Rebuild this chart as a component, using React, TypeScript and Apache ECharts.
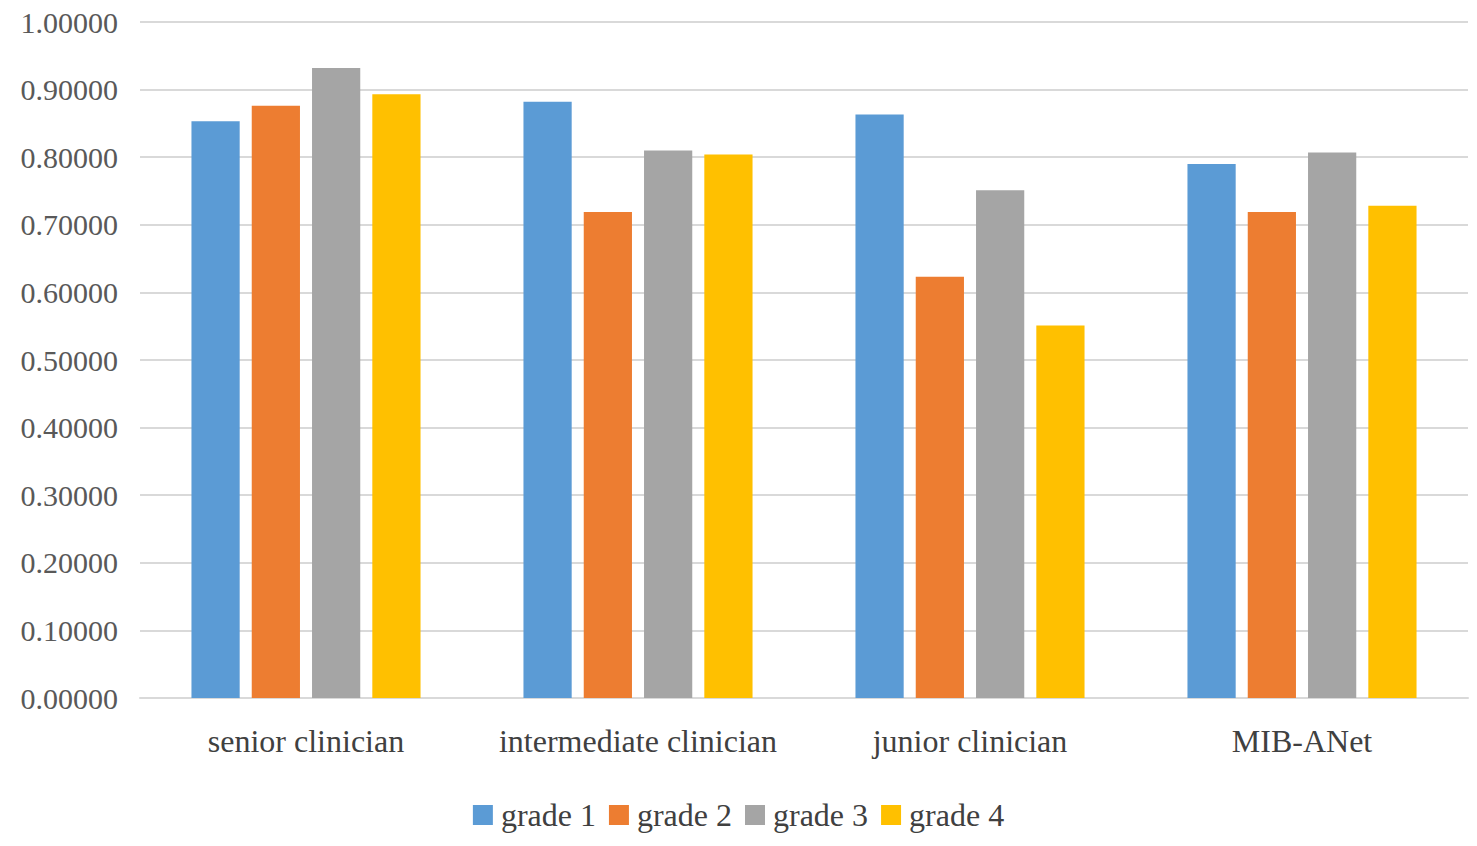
import React, { useEffect, useRef } from "react";
import * as echarts from "echarts";

const categories = ["senior clinician", "intermediate clinician", "junior clinician", "MIB-ANet"];
const seriesNames = ["grade 1", "grade 2", "grade 3", "grade 4"];
const grade1 = [0.853, 0.882, 0.863, 0.790];
const grade2 = [0.876, 0.719, 0.623, 0.719];
const grade3 = [0.932, 0.810, 0.751, 0.807];
const grade4 = [0.893, 0.804, 0.551, 0.728];
const colors = ["#5B9BD5", "#ED7D31", "#A5A5A5", "#FFC000"];

export default function App() {
  const ref = useRef<HTMLDivElement>(null);
  useEffect(() => {
    if (!ref.current) return;
    const chart = echarts.init(ref.current, null, { renderer: "svg" });
    const font = "'Liberation Serif', 'Times New Roman', serif";
    const data = [grade1, grade2, grade3, grade4];
    chart.setOption({
      animation: false,
      backgroundColor: "#ffffff",
      textStyle: { fontFamily: font },
      grid: { left: 140, right: 9, top: 22, bottom: 148 },
      legend: {
        bottom: 10,
        left: "center",
        itemWidth: 20,
        itemHeight: 20,
        itemGap: 13,
        icon: "rect",
        textStyle: { fontFamily: font, fontSize: 32, color: "#404040", padding: [0, 0, 0, 3] },
        data: seriesNames,
      },
      xAxis: {
        type: "category",
        data: categories,
        axisLine: { show: true, lineStyle: { color: "#d9d9d9", width: 2 } },
        axisTick: { show: false },
        axisLabel: {
          fontFamily: font,
          fontSize: 32,
          color: "#404040",
          margin: 27,
          interval: 0,
          hideOverlap: false,
        },
      },
      yAxis: {
        type: "value",
        min: 0,
        max: 1,
        interval: 0.1,
        axisLine: { show: false },
        axisTick: { show: false },
        splitLine: { lineStyle: { color: "#d9d9d9", width: 2 } },
        axisLabel: {
          fontFamily: font,
          fontSize: 30,
          color: "#595959",
          margin: 22,
          formatter: (v: number) => v.toFixed(5),
        },
      },
      series: seriesNames.map((name, i) => ({
        name,
        type: "bar",
        data: data[i],
        barGap: "25%",
        barCategoryGap: "31%",
        itemStyle: { color: colors[i] },
      })),
    });
    return () => chart.dispose();
  }, []);
  return (
    <div
      ref={ref}
      style={{ position: "absolute", left: 0, top: 0, width: 1477, height: 846 }}
    />
  );
}
